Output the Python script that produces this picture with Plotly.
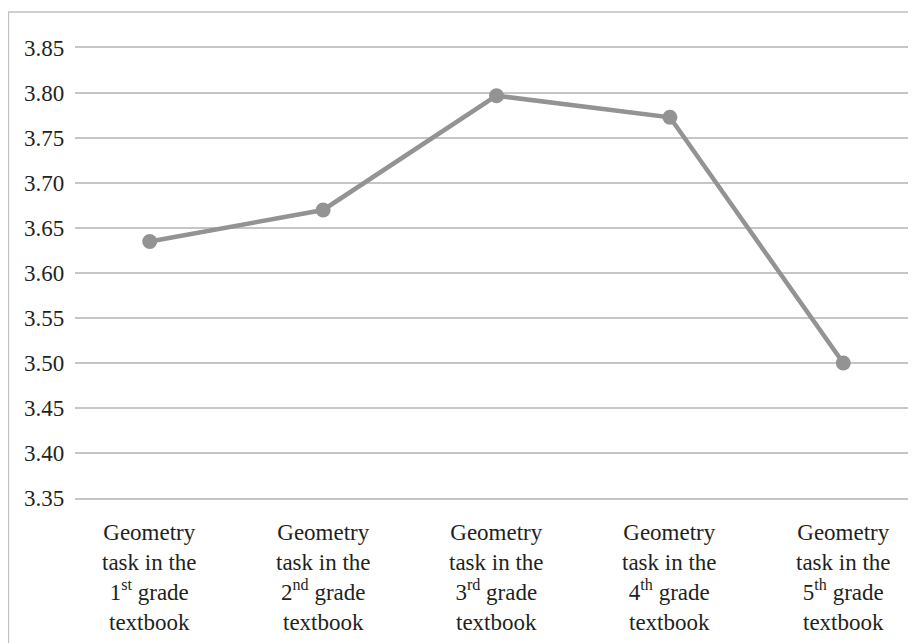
import plotly.graph_objects as go

# categorias e valores
categorias = [
    "Geometry<br>task in the<br>1<sup>st</sup> grade<br>textbook",
    "Geometry<br>task in the<br>2<sup>nd</sup> grade<br>textbook",
    "Geometry<br>task in the<br>3<sup>rd</sup> grade<br>textbook",
    "Geometry<br>task in the<br>4<sup>th</sup> grade<br>textbook",
    "Geometry<br>task in the<br>5<sup>th</sup> grade<br>textbook",
]
valores = [3.635, 3.670, 3.797, 3.773, 3.500]
y_ticks = [3.35, 3.40, 3.45, 3.50, 3.55, 3.60, 3.65, 3.70, 3.75, 3.80, 3.85]

cinza = "#939393"
grade = "#c6c6c6"
xs = list(range(len(categorias)))

fig = go.Figure(go.Scatter(
    x=xs, y=valores,
    mode="lines+markers",
    line=dict(color=cinza, width=4.5),
    marker=dict(color=cinza, size=15),
    hoverinfo="y",
))

# a página tem 8px de margem no body, por isso tudo é deslocado em 8px
fig.update_layout(
    width=908, height=635,
    margin=dict(l=67, r=3, t=40, b=145),
    paper_bgcolor="white", plot_bgcolor="white",
    showlegend=False,
)
fig.update_xaxes(
    tickvals=xs, showticklabels=False,
    range=[-0.431, 4.402],
    showgrid=False, zeroline=False,
    showline=True, mirror=True, linecolor=grade, linewidth=1.5,
)
fig.update_yaxes(
    range=[3.35, 3.85], tickvals=y_ticks, showticklabels=False,
    showgrid=True, gridcolor=grade, gridwidth=1.5,
    zeroline=False, showline=False,
)

# rótulos como anotações presas aos eixos
for v in y_ticks:
    fig.add_annotation(xref="paper", x=0, yref="y", y=v, text=f"{v:.2f}",
                       xanchor="right", yanchor="middle", xshift=-9,
                       showarrow=False,
                       font=dict(family="Times New Roman", size=23, color="#231f20"))
for x, c in zip(xs, categorias):
    fig.add_annotation(xref="x", x=x, yref="paper", y=0, text=c,
                       xanchor="center", yanchor="top", yshift=-20, align="center",
                       showarrow=False,
                       font=dict(family="Times New Roman", size=23, color="#231f20"))

fig.add_shape(
    type="rect", xref="paper", yref="paper",
    x0=(9 - 75) / 830, x1=1.1, y0=-0.5, y1=(498 - 12) / 450,
    line=dict(color="#c0c0c0", width=1.5), fillcolor="rgba(0,0,0,0)",
    layer="below",
)

fig.write_html("out.html")
